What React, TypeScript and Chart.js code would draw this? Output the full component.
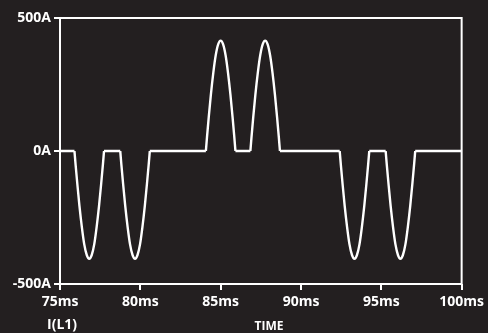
import React, { useEffect, useRef } from "react";
import { Chart, registerables } from "chart.js";

Chart.register(...registerables);

// I(L1) current, time in ms, current in A
// Flat 0 A stretches between the pulses
const baseline: [number, number][][] = [
  [[75, 0], [75.9, 0]],
  [[77.74, 0], [78.75, 0]],
  [[80.59, 0], [84.08, 0]],
  [[85.92, 0], [86.85, 0]],
  [[88.69, 0], [92.41, 0]],
  [[94.25, 0], [95.27, 0]],
  [[97.11, 0], [100, 0]],
];

const pulse1: [number, number][] = [
  [75.9, 0], [75.97, -51], [76.08, -125], [76.21, -206], [76.36, -286], [76.51, -351], [76.67, -392], [76.82, -405],
  [76.97, -392], [77.13, -351], [77.28, -286], [77.43, -206], [77.56, -125], [77.67, -51], [77.74, 0],
];
const pulse2: [number, number][] = [
  [78.75, 0], [78.82, -51], [78.93, -125], [79.06, -206], [79.21, -286], [79.36, -351], [79.52, -392], [79.67, -405],
  [79.82, -392], [79.98, -351], [80.13, -286], [80.28, -206], [80.41, -125], [80.52, -51], [80.59, 0],
];
const pulse3: [number, number][] = [
  [84.08, 0], [84.15, 52], [84.26, 128], [84.39, 211], [84.54, 293], [84.69, 359], [84.85, 402], [85.0, 415],
  [85.15, 402], [85.31, 359], [85.46, 293], [85.61, 211], [85.74, 128], [85.85, 52], [85.92, 0],
];
const pulse4: [number, number][] = [
  [86.85, 0], [86.92, 52], [87.03, 128], [87.16, 211], [87.31, 293], [87.46, 359], [87.62, 402], [87.77, 415],
  [87.92, 402], [88.08, 359], [88.23, 293], [88.38, 211], [88.51, 128], [88.62, 52], [88.69, 0],
];
const pulse5: [number, number][] = [
  [92.41, 0], [92.48, -51], [92.59, -125], [92.72, -206], [92.87, -286], [93.02, -351], [93.18, -392], [93.33, -405],
  [93.48, -392], [93.64, -351], [93.79, -286], [93.94, -206], [94.07, -125], [94.18, -51], [94.25, 0],
];
const pulse6: [number, number][] = [
  [95.27, 0], [95.34, -51], [95.45, -125], [95.58, -206], [95.73, -286], [95.88, -351], [96.04, -392], [96.19, -405],
  [96.34, -392], [96.5, -351], [96.65, -286], [96.8, -206], [96.93, -125], [97.04, -51], [97.11, 0],
];

const xTicks = [75, 80, 85, 90, 95, 100];
const yTicks = [-500, 0, 500];

const BG = "#231f20";
const FG = "#ffffff";
const FONT = "'Open Sans', sans-serif";

// joins runs of points with null breaks so each run is drawn on its own
const joinRuns = (runs: [number, number][][]) => {
  const out: ({ x: number; y: number } | { x: number; y: null })[] = [];
  runs.forEach((run, i) => {
    if (i > 0) out.push({ x: (out[out.length - 1].x + run[0][0]) / 2, y: null });
    run.forEach(([x, y]) => out.push({ x, y }));
  });
  return out;
};

const plotFrame = {
  id: "plotFrame",
  afterDraw(chart: any) {
    const { ctx, chartArea } = chart;
    ctx.save();
    ctx.strokeStyle = FG;
    ctx.lineWidth = 2;
    ctx.strokeRect(chartArea.left, chartArea.top, chartArea.right - chartArea.left, chartArea.bottom - chartArea.top);
    ctx.fillStyle = FG;
    ctx.textBaseline = "alphabetic";
    ctx.font = `bold 14px ${FONT}`;
    ctx.textAlign = "left";
    ctx.fillText("I(L1)", 47, 329);
    ctx.font = `bold 12px ${FONT}`;
    ctx.textAlign = "center";
    ctx.fillText("TIME", 269, 330);
    ctx.restore();
  },
};

export default function App() {
  const ref = useRef<HTMLCanvasElement | null>(null);

  useEffect(() => {
    document.body.style.margin = "0";
    document.body.style.background = BG;
    const lineStyle = {
      borderColor: FG,
      borderWidth: 2.4,
      pointRadius: 0,
      fill: false,
      spanGaps: false,
    };
    const chart = new Chart(ref.current!, {
      type: "line",
      data: {
        datasets: [
          { ...lineStyle, label: "I(L1)", data: joinRuns([pulse1, pulse2, pulse3, pulse4, pulse5, pulse6]) as any, cubicInterpolationMode: "monotone" },
          { ...lineStyle, label: "I(L1) 0A", data: joinRuns(baseline) as any, tension: 0 },
        ],
      },
      options: {
        animation: false,
        responsive: false,
        maintainAspectRatio: false,
        layout: { padding: { top: 18, right: 22, left: 0, bottom: 0 } },
        plugins: { legend: { display: false }, tooltip: { enabled: false } },
        scales: {
          x: {
            type: "linear",
            min: 75,
            max: 100,
            afterBuildTicks: (s: any) => {
              s.ticks = xTicks.map((value) => ({ value }));
            },
            afterFit: (s: any) => {
              s.height = 49;
            },
            border: { display: false },
            grid: { drawOnChartArea: false, drawTicks: true, tickLength: 6, color: FG, lineWidth: 2 },
            ticks: {
              color: FG,
              font: { family: FONT, size: 14, weight: "bold" },
              padding: 4,
              maxRotation: 0,
              autoSkip: false,
              callback: (v: any) => `${v}ms`,
            },
          },
          y: {
            type: "linear",
            min: -500,
            max: 500,
            afterBuildTicks: (s: any) => {
              s.ticks = yTicks.map((value) => ({ value }));
            },
            afterFit: (s: any) => {
              s.width = 60;
            },
            border: { display: false },
            grid: { drawOnChartArea: false, drawTicks: true, tickLength: 6, color: FG, lineWidth: 2 },
            ticks: {
              color: FG,
              font: { family: FONT, size: 14, weight: "bold" },
              padding: 3,
              autoSkip: false,
              callback: (v: any) => `${v}A`,
            },
          },
        },
      },
      plugins: [plotFrame],
    });
    return () => chart.destroy();
  }, []);

  return (
    <div style={{ width: 488, height: 333, background: BG }}>
      <canvas ref={ref} width={488} height={333} style={{ display: "block" }} />
    </div>
  );
}
